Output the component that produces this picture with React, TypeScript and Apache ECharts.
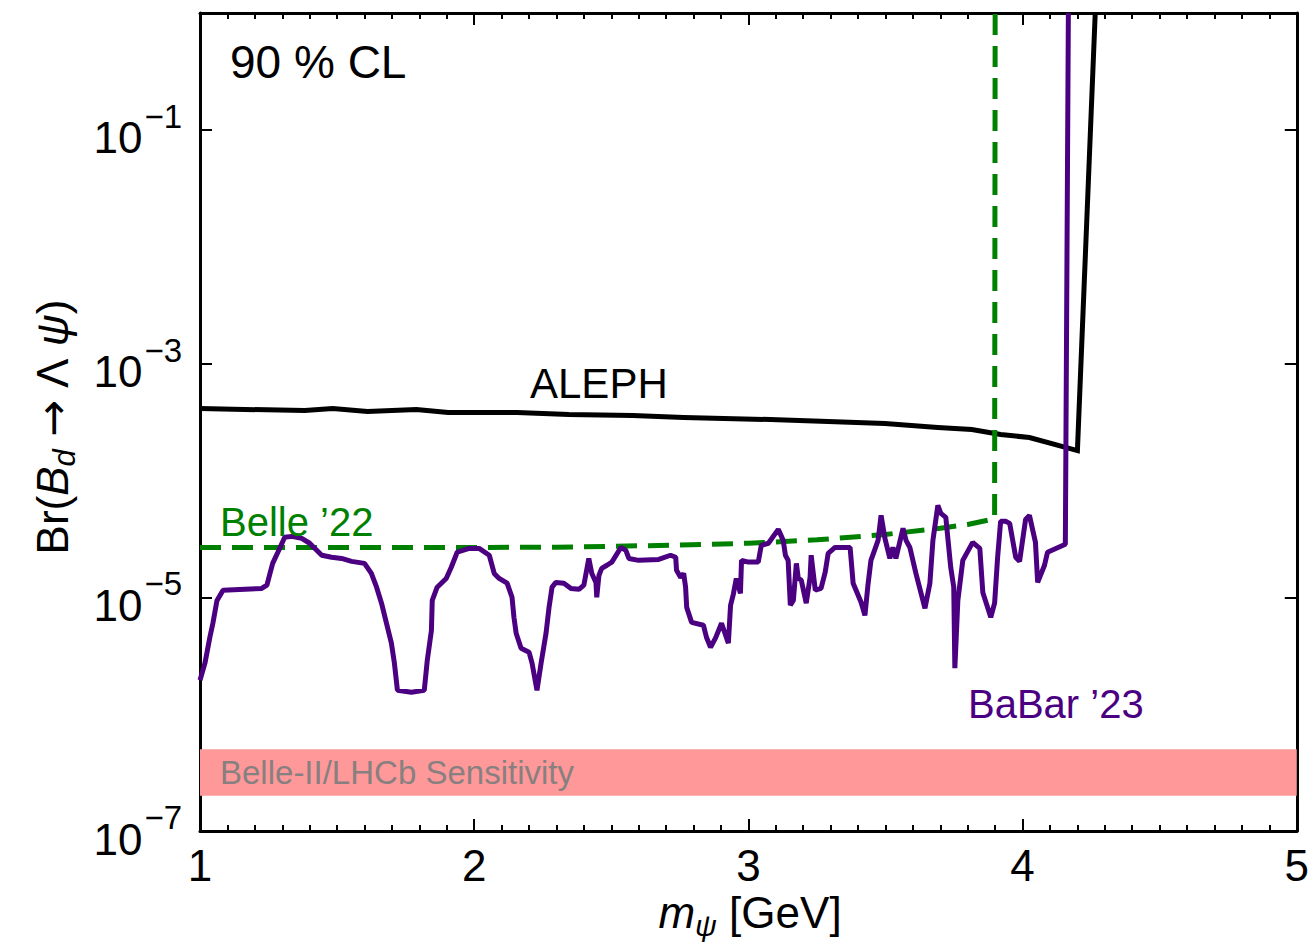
import React, { useEffect, useRef } from 'react';
import * as echarts from 'echarts';

// [m_psi (GeV), Br]
const alephLimit: [number, number][] = [
  [1.0, 4.12e-4], [1.382, 3.96e-4], [1.484, 4.12e-4], [1.611, 3.89e-4], [1.789, 4.05e-4],
  [1.905, 3.81e-4], [2.156, 3.81e-4], [2.345, 3.66e-4], [2.578, 3.6e-4], [2.764, 3.45e-4],
  [3.08, 3.32e-4], [3.291, 3.19e-4], [3.498, 3.07e-4], [3.691, 2.84e-4], [3.815, 2.73e-4],
  [3.92, 2.47e-4], [4.025, 2.33e-4], [4.2, 1.8e-4], [4.265, 1.0],
];

const belleLimit: [number, number][] = [
  [1.0, 2.67e-5], [1.5, 2.67e-5], [2.0, 2.67e-5], [2.3, 2.68e-5], [2.5, 2.73e-5],
  [2.75, 2.8e-5], [3.0, 2.9e-5], [3.25, 3.1e-5], [3.5, 3.45e-5], [3.7, 3.9e-5],
  [3.8, 4.2e-5], [3.898, 4.7e-5], [3.9, 1.0],
];

const babarLimit: [number, number][] = [
  [1.0, 1.95e-6], [1.018, 2.73e-6], [1.036, 4.55e-6], [1.047, 6.0e-6], [1.062, 9.4e-6],
  [1.084, 1.15e-5], [1.225, 1.19e-5], [1.244, 1.27e-5], [1.265, 1.95e-5], [1.284, 2.43e-5],
  [1.309, 3.26e-5], [1.335, 3.32e-5], [1.371, 3.19e-5], [1.4, 2.9e-5], [1.444, 2.29e-5],
  [1.48, 2.2e-5], [1.516, 2.15e-5], [1.553, 2.03e-5], [1.6, 1.95e-5], [1.625, 1.6e-5],
  [1.644, 1.22e-5], [1.662, 8.9e-6], [1.68, 6.0e-6], [1.698, 4.05e-6], [1.709, 2.73e-6],
  [1.72, 1.6e-6], [1.771, 1.54e-6], [1.818, 1.6e-6], [1.829, 2.9e-6], [1.844, 5.2e-6],
  [1.847, 9.4e-6], [1.865, 1.22e-5], [1.898, 1.45e-5], [1.916, 1.8e-5], [1.938, 2.43e-5],
  [1.982, 2.62e-5], [2.018, 2.62e-5], [2.055, 2.29e-5], [2.073, 1.6e-5], [2.091, 1.45e-5],
  [2.12, 1.32e-5], [2.138, 1.0e-5], [2.145, 6.75e-6], [2.153, 4.92e-6], [2.171, 3.66e-6],
  [2.2, 3.39e-6], [2.211, 2.73e-6], [2.229, 1.6e-6], [2.244, 2.73e-6], [2.262, 4.92e-6],
  [2.273, 8.2e-6], [2.284, 1.22e-5], [2.298, 1.34e-5], [2.327, 1.32e-5], [2.353, 1.19e-5],
  [2.382, 1.17e-5], [2.4, 1.27e-5], [2.418, 2.15e-5], [2.429, 1.6e-5], [2.444, 1.34e-5],
  [2.447, 1.0e-5], [2.455, 1.54e-5], [2.465, 1.77e-5], [2.484, 1.88e-5], [2.502, 2.0e-5],
  [2.535, 2.67e-5], [2.553, 2.52e-5], [2.564, 2.15e-5], [2.6, 2.07e-5], [2.673, 2.11e-5],
  [2.716, 2.29e-5], [2.735, 2.2e-5], [2.738, 1.7e-5], [2.753, 1.48e-5], [2.764, 1.6e-5],
  [2.771, 1.22e-5], [2.775, 8.2e-6], [2.793, 6.1e-6], [2.836, 5.77e-6], [2.847, 4.55e-6],
  [2.862, 3.74e-6], [2.88, 4.47e-6], [2.902, 6.0e-6], [2.927, 4.05e-6], [2.935, 8.55e-6],
  [2.945, 1.06e-5], [2.956, 1.45e-5], [2.971, 1.08e-5], [2.975, 2.07e-5], [3.0, 2.0e-5],
  [3.036, 2.0e-5], [3.047, 2.78e-5], [3.073, 2.9e-5], [3.109, 3.81e-5], [3.127, 3.07e-5],
  [3.135, 2.29e-5], [3.145, 2.07e-5], [3.153, 8.55e-6], [3.164, 9.4e-6], [3.175, 1.95e-5],
  [3.182, 1.45e-5], [3.193, 1.4e-5], [3.211, 8.9e-6], [3.225, 1.48e-5], [3.229, 2.29e-5],
  [3.244, 1.15e-5], [3.265, 1.19e-5], [3.28, 1.63e-5], [3.291, 2.38e-5], [3.316, 2.67e-5],
  [3.371, 2.67e-5], [3.382, 1.32e-5], [3.411, 9.06e-6], [3.425, 7.0e-6], [3.436, 1.27e-5],
  [3.447, 2.07e-5], [3.473, 3.07e-5], [3.484, 5.02e-5], [3.498, 3.19e-5], [3.516, 2.15e-5],
  [3.527, 2.67e-5], [3.538, 2.15e-5], [3.564, 3.89e-5], [3.575, 3.07e-5], [3.589, 2.67e-5],
  [3.611, 1.6e-5], [3.644, 8.05e-6], [3.662, 1.32e-5], [3.673, 3.07e-5], [3.691, 6.11e-5],
  [3.702, 5.22e-5], [3.72, 4.83e-5], [3.738, 1.8e-5], [3.749, 1.22e-5], [3.753, 2.47e-6],
  [3.764, 9.4e-6], [3.782, 2.07e-5], [3.818, 2.95e-5], [3.844, 2.62e-5], [3.855, 1.1e-5],
  [3.884, 6.75e-6], [3.898, 8.9e-6], [3.909, 2.2e-5], [3.92, 4.47e-5], [3.938, 4.47e-5],
  [3.953, 4.29e-5], [3.975, 2.2e-5], [3.989, 2.03e-5], [4.011, 4.64e-5], [4.025, 5.02e-5],
  [4.047, 2.95e-5], [4.055, 1.34e-5], [4.08, 1.88e-5], [4.091, 2.43e-5], [4.156, 2.84e-5],
  [4.167, 1.0],
];

const sensitivityBand: [number, number] = [2e-7, 5e-7];
const xRange: [number, number] = [1, 5];
const yExpRange: [number, number] = [-7, 0];

const FONT = '"Liberation Sans", Arial, Helvetica, sans-serif';
const BLACK = '#000000';
const GREEN = '#008000';
const PURPLE = '#4B0082';

export default function App() {
  const ref = useRef<HTMLDivElement>(null);

  useEffect(() => {
    if (!ref.current) return;
    const chart = echarts.init(ref.current, null, { renderer: 'svg' });

    const tickCommon = {
      axisLine: { show: true, onZero: false, lineStyle: { color: BLACK, width: 3 } },
      splitLine: { show: false },
      minorSplitLine: { show: false },
    };

    const option: any = {
      animation: false,
      backgroundColor: '#ffffff',
      textStyle: { fontFamily: FONT },
      grid: { left: 200, right: 12, top: 13, bottom: 112, containLabel: false },
      xAxis: [
        {
          type: 'value', min: xRange[0], max: xRange[1], interval: 1, position: 'bottom',
          ...tickCommon,
          axisTick: { show: true, inside: true, length: 12, lineStyle: { color: BLACK, width: 2 } },
          minorTick: { show: true, splitNumber: 10, length: 6, lineStyle: { color: BLACK, width: 2 } },
          axisLabel: { show: true, color: BLACK, fontSize: 44, margin: 12, fontFamily: FONT },
        },
        {
          type: 'value', min: xRange[0], max: xRange[1], interval: 1, position: 'top',
          ...tickCommon,
          axisTick: { show: true, inside: true, length: 12, lineStyle: { color: BLACK, width: 2 } },
          minorTick: { show: true, splitNumber: 10, length: 6, lineStyle: { color: BLACK, width: 2 } },
          axisLabel: { show: false },
        },
      ],
      yAxis: [
        {
          type: 'log', logBase: 10, min: Math.pow(10, yExpRange[0]), max: Math.pow(10, yExpRange[1]),
          position: 'left',
          axisLine: { show: false }, axisTick: { show: false }, axisLabel: { show: false },
          splitLine: { show: false },
        },
        {
          type: 'value', min: yExpRange[0], max: yExpRange[1], interval: 2, position: 'left',
          ...tickCommon,
          axisTick: { show: true, inside: true, length: 12, lineStyle: { color: BLACK, width: 2 } },
          axisLabel: {
            show: true, margin: 18,
            formatter: (v: number) => (v === 0 ? '' : `{b|10}{s|\u2212${Math.abs(v)}}`),
            rich: {
              b: { fontSize: 44, color: BLACK, fontFamily: FONT, padding: [16, 0, 0, 0] },
              s: { fontSize: 33, color: BLACK, fontFamily: FONT, verticalAlign: 'top', padding: [0, 0, 0, 2] },
            },
          },
        },
        {
          type: 'value', min: yExpRange[0], max: yExpRange[1], interval: 2, position: 'right',
          ...tickCommon,
          axisTick: { show: true, inside: true, length: 12, lineStyle: { color: BLACK, width: 2 } },
          axisLabel: { show: false },
        },
      ],
      series: [
        {
          name: 'Sensitivity', type: 'line', xAxisIndex: 0, yAxisIndex: 0, data: [],
          markArea: {
            silent: true,
            itemStyle: { color: '#FF9999', opacity: 1 },
            label: { show: false },
            data: [[{ xAxis: xRange[0], yAxis: sensitivityBand[0] }, { xAxis: xRange[1], yAxis: sensitivityBand[1] }]],
          },
        },
        {
          name: 'ALEPH', type: 'line', xAxisIndex: 0, yAxisIndex: 0, data: alephLimit,
          showSymbol: false, symbol: 'none',
          lineStyle: { color: BLACK, width: 5, join: 'miter' },
        },
        {
          name: "Belle '22", type: 'line', xAxisIndex: 0, yAxisIndex: 0, data: belleLimit,
          showSymbol: false, symbol: 'none',
          lineStyle: { color: GREEN, width: 5, type: [21, 11] },
        },
        {
          name: "BaBar '23", type: 'line', xAxisIndex: 0, yAxisIndex: 0, data: babarLimit,
          showSymbol: false, symbol: 'none',
          lineStyle: { color: PURPLE, width: 5 },
        },
      ],
      graphic: [
        { type: 'text', left: 220, top: 756, z: 10, style: { text: 'Belle-II/LHCb Sensitivity', fill: '#888080', fontSize: 33, fontFamily: FONT } },
        { type: 'text', x: 230, y: 62, z: 10, style: { text: '90 % CL', fill: BLACK, fontSize: 46, fontFamily: FONT, verticalAlign: 'middle' } },
        { type: 'text', x: 530, y: 383, z: 10, style: { text: 'ALEPH', fill: BLACK, fontSize: 42, fontFamily: FONT, verticalAlign: 'middle' } },
        { type: 'text', x: 220, y: 522, z: 10, style: { text: 'Belle \u201922', fill: GREEN, fontSize: 40, fontFamily: FONT, verticalAlign: 'middle' } },
        { type: 'text', x: 968, y: 704, z: 10, style: { text: 'BaBar \u201923', fill: PURPLE, fontSize: 40, fontFamily: FONT, verticalAlign: 'middle' } },
        {
          type: 'text', x: 55, y: 427, rotation: Math.PI / 2, z: 10,
          style: {
            text: '{n|Br(}{i|B}{d|d}{n| }{a|\u2192}{n| \u039B }{i|\u03C8}{n|)}',
            align: 'center', verticalAlign: 'middle', fill: BLACK,
            rich: {
              n: { fontSize: 44, fontFamily: FONT, fill: BLACK, padding: [0, 0, 6, 0] },
              a: { fontSize: 44, fontFamily: '"DejaVu Sans", sans-serif', fill: BLACK, padding: [0, 0, 6, 0] },
              i: { fontSize: 44, fontFamily: FONT, fontStyle: 'italic', fill: BLACK, padding: [0, 0, 6, 0] },
              d: { fontSize: 31, fontFamily: FONT, fontStyle: 'italic', fill: BLACK, verticalAlign: 'bottom' },
            },
          },
        },
        {
          type: 'text', x: 750, y: 915, z: 10,
          style: {
            text: '{i|m}{d|\u03C8}{n| [GeV]}',
            align: 'center', verticalAlign: 'middle', fill: BLACK,
            rich: {
              n: { fontSize: 44, fontFamily: FONT, fill: BLACK, padding: [0, 0, 6, 0] },
              i: { fontSize: 44, fontFamily: FONT, fontStyle: 'italic', fill: BLACK, padding: [0, 0, 6, 0] },
              d: { fontSize: 30, fontFamily: FONT, fontStyle: 'italic', fill: BLACK, verticalAlign: 'bottom' },
            },
          },
        },
      ],
    };

    chart.setOption(option);
    return () => chart.dispose();
  }, []);

  return (
    <div
      ref={ref}
      style={{ position: 'fixed', left: 0, top: 0, width: 1312, height: 943, background: '#fff' }}
    />
  );
}
